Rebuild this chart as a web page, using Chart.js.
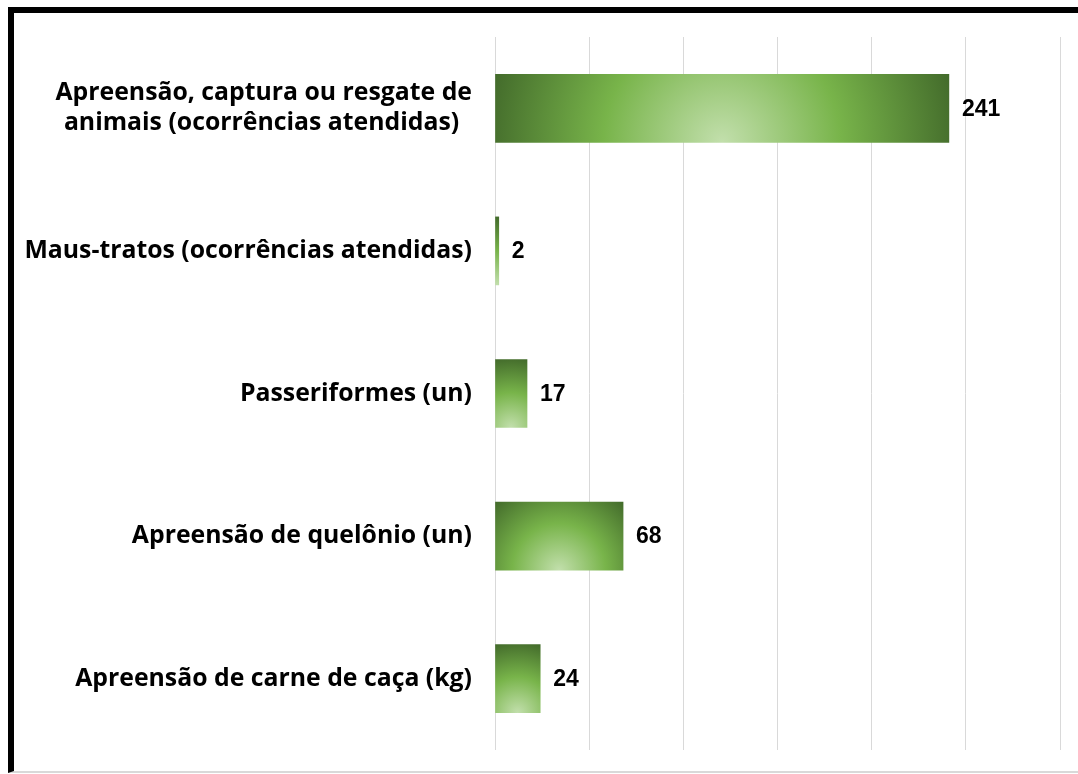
<!DOCTYPE html>
<html>
<head>
<meta charset="utf-8">
<script src="https://cdn.jsdelivr.net/npm/chart.js@4"></script>
<style>
  html, body { margin: 0; padding: 0; background: #fff; overflow: hidden; }
  #frame { position: absolute; left: 8px; top: 7px; width: 1080px; height: 758px;
           border-left: 6px solid #000; border-top: 6px solid #000; border-bottom: 2px solid #d9d9d9; }
  #wrap { position: absolute; left: 0; top: 0; width: 1078px; height: 774px; }
</style>
</head>
<body>
<div id="frame"></div>
<div id="wrap"><canvas id="chart"></canvas></div>
<script>
// Fiscalização ambiental — fauna
const labels = [
  ["Apreensão, captura ou resgate de", "animais (ocorrências atendidas)\u00a0\u00a0"],
  "Maus-tratos (ocorrências atendidas)",
  "Passeriformes (un)",
  "Apreensão de quelônio (un)",
  "Apreensão de carne de caça (kg)",
];
const values = [241, 2, 17, 68, 24];
const xMax = 300;
const xStep = 50;

const BAR_H = 68;

// radial fill from bottom-centre of each bar (light centre, dark edges)
function barFill(c) {
  const chart = c.chart;
  const xs = chart.scales.x, ys = chart.scales.y;
  if (!chart.chartArea || !xs || !ys) return "#70ad47";
  const x0 = xs.getPixelForValue(0);
  const x1 = xs.getPixelForValue(values[c.dataIndex]);
  const yc = ys.getPixelForValue(c.dataIndex);
  const cx = (x0 + x1) / 2, cy = yc + BAR_H / 2;
  const r = Math.max(2, Math.hypot((x1 - x0) / 2, BAR_H));
  const g = chart.ctx.createRadialGradient(cx, cy, 0, cx, cy, r);
  g.addColorStop(0, "#c2dfac");
  g.addColorStop(0.5, "#78b44a");
  g.addColorStop(1, "#436b2b");
  return g;
}

const valueLabels = {
  id: "valueLabels",
  afterDatasetsDraw(chart) {
    const ctx = chart.ctx;
    const meta = chart.getDatasetMeta(0);
    ctx.save();
    ctx.font = "bold 23px 'Liberation Sans', Arial, sans-serif";
    ctx.fillStyle = "#000";
    ctx.textAlign = "left";
    ctx.textBaseline = "middle";
    meta.data.forEach((bar, i) => ctx.fillText(values[i], bar.x + 13, bar.y + 1));
    ctx.restore();
  },
};

new Chart(document.getElementById("chart"), {
  type: "bar",
  data: {
    labels: labels,
    datasets: [{ data: values, backgroundColor: barFill, barThickness: BAR_H, borderWidth: 0 }],
  },
  options: {
    indexAxis: "y",
    responsive: true, maintainAspectRatio: false, animation: false,
    layout: { padding: { left: 20, right: 18, top: 37, bottom: 24 } },
    plugins: { legend: { display: false }, tooltip: { enabled: false } },
    scales: {
      x: {
        min: 0, max: xMax,
        ticks: { display: false, stepSize: xStep },
        grid: { color: "#d9d9d9", lineWidth: 1, drawTicks: false },
        border: { display: false },
        afterFit: (s) => { s.height = 0; },
      },
      y: {
        grid: { display: false, drawTicks: false },
        border: { display: false },
        afterFit: (s) => { s.width = 475; s.paddingTop = 0; s.paddingBottom = 0; },
        ticks: {
          padding: 23, color: "#000",
          font: { family: "'Open Sans', sans-serif", weight: "bold", size: 24.8, lineHeight: 1.21 },
        },
      },
    },
  },
  plugins: [valueLabels],
});
</script>
</body>
</html>
